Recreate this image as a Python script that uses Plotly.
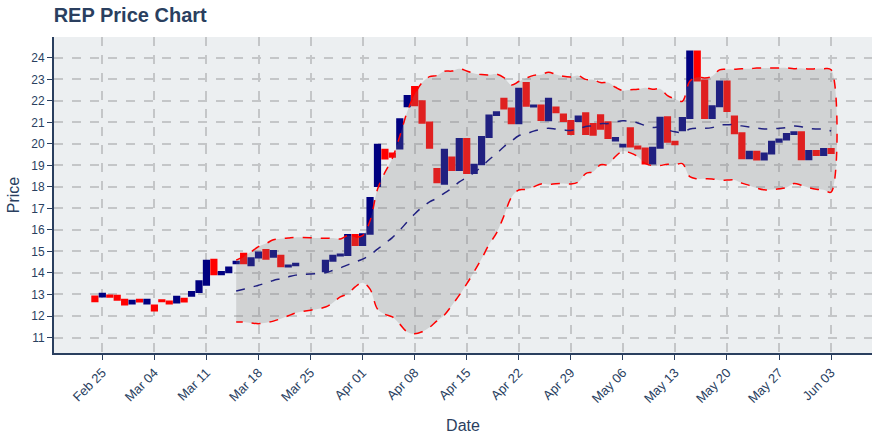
import pandas as pd
import plotly.graph_objects as go

missing_dates = ["2019-03-24", "2019-03-25", "2019-03-26"]
dates = [d for d in pd.date_range("2019-02-24", "2019-06-03", freq="D")
         if d.strftime("%Y-%m-%d") not in missing_dates]

opens = [12.91, 12.91, 12.95, 12.94, 12.76,
         12.58, 12.76, 12.58, 12.49, 12.73, 12.67, 12.63, 12.80, 12.94, 13.11,
         13.45, 14.61, 13.94, 14.03, 14.45, 14.89, 14.36, 14.72, 15.07, 14.76,
         14.80, 14.30, 14.36,
         14.08, 14.57, 14.81, 14.84, 15.76,
         15.30, 15.82, 18.04, 19.73, 19.55, 19.79, 21.75, 22.64, 21.98, 21.00,
         18.83, 18.15, 19.37, 18.79, 20.23, 18.65, 19.06, 20.32, 21.34, 22.10,
         21.65, 20.96, 22.83, 21.74, 21.78, 21.10, 21.69, 21.37, 21.07, 21.07,
         21.42, 20.93, 21.33, 21.01, 20.16, 19.88, 20.73, 19.88, 19.79, 19.09,
         19.82, 21.24, 20.10, 20.64, 21.20, 24.30, 22.95, 21.20, 21.75, 22.90,
         21.28, 20.50, 19.33, 19.64, 19.27, 19.55, 20.10, 20.20, 20.46, 20.54,
         19.29,
         19.67, 19.49, 19.76]
closes = [12.68, 13.03, 12.90, 12.76, 12.53,
          12.71, 12.67, 12.76, 12.26, 12.68, 12.58, 12.89, 12.67, 13.12, 13.62,
          14.57, 13.94, 14.04, 14.25, 14.52, 14.45, 14.69, 14.95, 14.66, 15.02,
          14.31, 14.35, 14.43,
          14.57, 14.80, 14.86, 15.76, 15.30,
          15.80, 17.49, 19.96, 19.32, 19.40, 21.15, 22.23, 21.80, 20.98, 19.82,
          18.22, 19.73, 18.79, 20.23, 18.65, 19.03, 20.32, 21.32, 21.47, 21.65,
          20.96, 22.56, 21.77, 21.79, 21.11, 22.10, 21.47, 21.07, 20.46, 21.28,
          20.46, 20.43, 20.70, 20.28, 20.28, 19.96, 19.88, 19.79, 19.09, 19.82,
          21.22, 20.10, 19.98, 21.20, 24.30, 22.95, 21.20, 21.75, 22.90, 21.53,
          20.50, 19.33, 19.64, 19.27, 19.55, 20.10, 20.20, 20.46, 20.54, 19.29,
          19.67,
          19.49, 19.76, 19.58]

df = pd.DataFrame({"date": dates, "open": opens, "close": closes})
df["high"] = df[["open", "close"]].max(axis=1)
df["low"] = df[["open", "close"]].min(axis=1)
df["ma"] = df["close"].rolling(20).mean()
df["sd"] = df["close"].rolling(20).std()
df["upper"] = df["ma"] + 2 * df["sd"]
df["lower"] = df["ma"] - 2 * df["sd"]
b = df.dropna()

NAVY = "#000080"
RED = "#ff0000"
TXT = "#2a3f5f"

fig = go.Figure()
fig.add_trace(go.Candlestick(
    x=df["date"], open=df["open"], high=df["high"], low=df["low"], close=df["close"],
    increasing=dict(line=dict(color=NAVY, width=2), fillcolor=NAVY),
    decreasing=dict(line=dict(color=RED, width=2), fillcolor=RED),
    whiskerwidth=0, showlegend=False, name="REP"))
fig.add_trace(go.Scatter(
    x=b["date"], y=b["ma"], mode="lines",
    line=dict(color=NAVY, width=1.5, dash="dash", shape="spline"),
    showlegend=False, name="MA"))
fig.add_trace(go.Scatter(
    x=list(b["date"]) + list(b["date"][::-1]),
    y=list(b["upper"]) + list(b["lower"][::-1]),
    mode="lines", fill="toself", fillcolor="rgba(128,128,128,0.25)",
    line=dict(color=RED, width=1.5, dash="dash", shape="spline"),
    showlegend=False, name="Bollinger"))

fig.update_layout(
    width=880, height=440,
    margin=dict(l=54, r=8, t=37, b=81),
    paper_bgcolor="white", plot_bgcolor="#ECEFF1",
    font=dict(family="Arial", color=TXT, size=12),
    title=dict(text="<b>REP Price Chart</b>", x=0.061, xanchor="left", y=0.965,
               yanchor="middle", font=dict(size=20, color=TXT)),
    showlegend=False,
    boxgap=0.3, boxgroupgap=0,
)
fig.update_xaxes(
    range=["2019-02-18 12:00", "2019-06-08 12:00"],
    rangeslider=dict(visible=False),
    tick0="2019-02-25", dtick=7 * 24 * 3600 * 1000, tickformat="%b %d",
    tickangle=-45, ticks="outside", ticklen=5, tickcolor=TXT,
    showline=True, linecolor=TXT, linewidth=2,
    showgrid=True, gridcolor="#c4c6c8", griddash="dash", gridwidth=1.5,
    title=dict(text="Date", font=dict(size=16, color=TXT)),
    tickfont=dict(size=13, color=TXT),
)
fig.update_yaxes(
    range=[10.28, 24.97], dtick=1, tick0=0,
    ticks="outside", ticklen=5, tickcolor=TXT,
    showline=True, linecolor=TXT, linewidth=2,
    showgrid=True, gridcolor="#c4c6c8", griddash="dash", gridwidth=1.5,
    zeroline=False,
    title=dict(text="Price", font=dict(size=16, color=TXT), standoff=8),
    tickfont=dict(size=12, color=TXT),
)

fig.write_html("out.html")
